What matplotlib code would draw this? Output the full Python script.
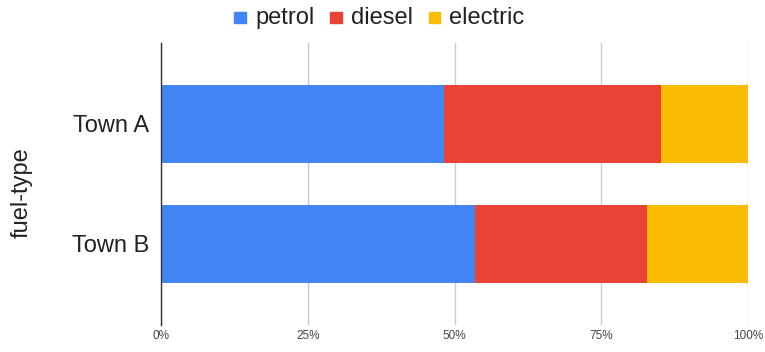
import matplotlib
matplotlib.use("Agg")
import matplotlib.pyplot as plt
from matplotlib.patches import Rectangle
import numpy as np

plt.rcParams['font.family'] = ['Liberation Sans', 'DejaVu Sans']

towns = ["Town A", "Town B"]
series = ["petrol", "diesel", "electric"]
petrol = [48.2, 53.5]
diesel = [37.0, 29.3]
electric = [14.8, 17.2]
colors = ["#4285F4", "#EA4335", "#FBBC04"]
xticks = [0, 25, 50, 75, 100]
xticklabels = ["0%", "25%", "50%", "75%", "100%"]

W, H = 765, 352
fig = plt.figure(figsize=(W / 100, H / 100), dpi=100)
ax = fig.add_axes([161 / W, 1 - 325 / H, 587 / W, 282 / H])

y = np.arange(len(towns))
left = np.zeros(len(towns))
for vals, c, name in zip([petrol, diesel, electric], colors, series):
    ax.barh(y, vals, left=left, height=0.648, color=c, label=name, zorder=3)
    left = left + np.array(vals)

ax.set_xlim(0, 100)
ax.set_ylim(1.675, -0.675)
ax.set_yticks(y)
ax.set_yticklabels(towns, fontsize=17, color="#222222")
ax.set_xticks(xticks)
ax.set_xticklabels(xticklabels, fontsize=8.5, color="#444444")
ax.tick_params(axis="both", length=0)
ax.tick_params(axis="y", pad=8.5)
ax.tick_params(axis="x", pad=3.5)
ax.grid(axis="x", color="#cccccc", linewidth=1, zorder=0)
for s in ["top", "right", "bottom"]:
    ax.spines[s].set_visible(False)
ax.spines["left"].set_color("#333333")
ax.spines["left"].set_linewidth(1)
ax.spines["left"].set_zorder(4)

fig.text(22 / W, 1 - 193 / H, "fuel-type", rotation=90, ha="center", va="center",
         fontsize=17, color="#222222")

# legend
sq_x = [234, 330, 428.7]
tx_x = [255, 350.7, 449]
for sx, tx, c, name in zip(sq_x, tx_x, colors, series):
    fig.patches.append(Rectangle((sx / W, 1 - 23.3 / H), 11.7 / W, 11.7 / H,
                                 transform=fig.transFigure, color=c, figure=fig))
    fig.text(tx / W, 1 - 24 / H, name, ha="left", va="baseline", fontsize=17,
             color="#222222")

fig.savefig("out.png", dpi=100)
